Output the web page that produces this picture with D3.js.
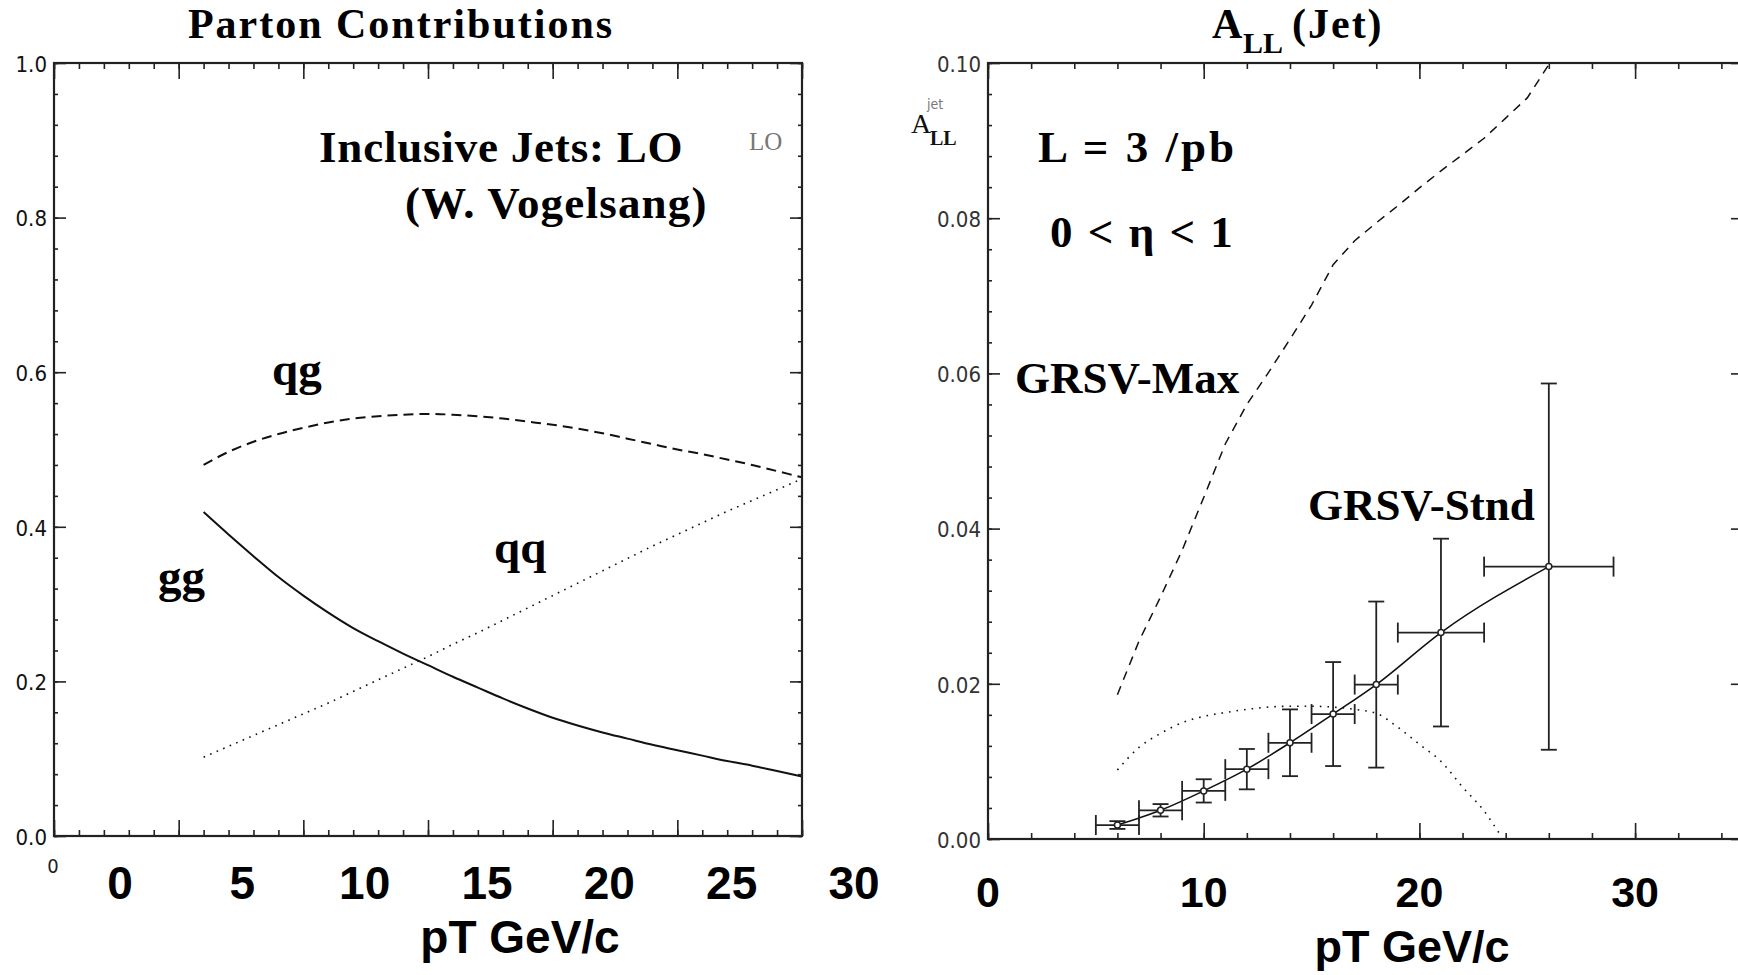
<!DOCTYPE html>
<html>
<head>
<meta charset="utf-8">
<script src="https://cdn.jsdelivr.net/npm/d3@7"></script>
<style>
  html, body { margin: 0; padding: 0; background: #fff; }
  svg { display: block; }
  .serif { font-family: "Liberation Serif", "Times New Roman", serif; font-weight: bold; fill: #000; }
  .bigsans { font-family: "Liberation Sans", Arial, sans-serif; font-weight: bold; fill: #000; }
  .tick text { font-family: "DejaVu Sans Condensed", "DejaVu Sans", sans-serif; font-stretch: condensed; }
</style>
</head>
<body>
<svg id="chart" width="1738" height="975"></svg>
<script>
// ---------------- DATA ----------------
// Left panel: parton contributions (fraction) vs pT
const partonPt = [6,7,8,9,10,11,12,13,14,15,16,17,18,19,20,21,22,23,24,25,26,27,28,29,30];
const qgFrac   = [0.480,0.497,0.510,0.520,0.528,0.535,0.540,0.543,0.545,0.546,0.545,0.543,0.540,0.536,0.532,0.527,0.521,0.514,0.507,0.500,0.494,0.487,0.480,0.472,0.464];
const ggFrac   = [0.419,0.390,0.362,0.335,0.311,0.289,0.269,0.252,0.236,0.221,0.206,0.192,0.178,0.165,0.153,0.143,0.134,0.126,0.118,0.111,0.104,0.097,0.091,0.084,0.077];
const qqFrac   = [0.102,0.116,0.130,0.144,0.158,0.172,0.187,0.202,0.217,0.232,0.248,0.263,0.279,0.295,0.311,0.327,0.343,0.359,0.375,0.390,0.405,0.420,0.434,0.448,0.462];
const partonYTicks = [0.0,0.2,0.4,0.6,0.8,1.0];
const partonXLabels = [0,5,10,15,20,25,30];

// Right panel: A_LL (jet)
const allPt   = [6,8,10,12,14,16,18,21,26];
const allVal  = [0.0018,0.0037,0.0062,0.0090,0.0124,0.0161,0.0199,0.0266,0.0351];
const allXErr = [1,1,1,1,1,1,1,2,3];
const allYErr = [0.0005,0.0008,0.0015,0.0026,0.0043,0.0067,0.0107,0.0121,0.0236];
const maxPt   = [6,7,8,9,10,11,12,13,14,15,16,17,18,19,20,21,22,23,24,25,26];
const maxVal  = [0.0186,0.0255,0.0312,0.0372,0.0440,0.0509,0.0560,0.0601,0.0644,0.0688,0.0740,0.0771,0.0794,0.0816,0.0839,0.0861,0.0882,0.0903,0.0929,0.0955,0.0998];
const minPt   = [6,7,8,9,10,11,12,13,14,15,16,17,18,19,20,21,22,23,23.8];
const minVal  = [0.0089,0.0118,0.0136,0.0150,0.0158,0.0163,0.0167,0.0170,0.0171,0.0171,0.0170,0.0167,0.0162,0.0144,0.0122,0.0100,0.0067,0.0036,0.0003];
const allYTicks = [0.00,0.02,0.04,0.06,0.08,0.10];
const allXLabels = [0,10,20,30];

// ---------------- DRAW ----------------
const svg = d3.select("#chart");

function frame(g, xs, ys, xMaj, xMin, yMaj, yMin, yFmt, labelColor) {
  const [xa, xb] = xs.range();
  const [ya, yb] = ys.range(); // ya bottom, yb top
  const mk = (sel) => { sel.select(".domain").remove(); sel.selectAll("line").attr("stroke", "#222").attr("stroke-width", 1.6); };
  g.append("g").attr("transform", `translate(0,${ya})`).call(d3.axisBottom(xs).tickValues(xMin).tickSize(-6).tickFormat("")).call(mk);
  g.append("g").attr("transform", `translate(0,${ya})`).call(d3.axisBottom(xs).tickValues(xMaj).tickSize(-16).tickFormat("")).call(mk);
  g.append("g").attr("transform", `translate(0,${yb})`).call(d3.axisTop(xs).tickValues(xMin).tickSize(-6).tickFormat("")).call(mk);
  g.append("g").attr("transform", `translate(0,${yb})`).call(d3.axisTop(xs).tickValues(xMaj).tickSize(-16).tickFormat("")).call(mk);
  g.append("g").attr("transform", `translate(${xa},0)`).call(d3.axisLeft(ys).tickValues(yMin).tickSize(-4).tickFormat("")).call(mk);
  const la = g.append("g").attr("transform", `translate(${xa},0)`)
    .call(d3.axisLeft(ys).tickValues(yMaj).tickSize(-12).tickPadding(7).tickFormat(yFmt)).call(mk);
  la.selectAll("text").attr("font-size", 22).attr("fill", labelColor).attr("dy", "0.38em");
  g.append("g").attr("transform", `translate(${xb},0)`).call(d3.axisRight(ys).tickValues(yMin).tickSize(-4).tickFormat("")).call(mk);
  g.append("g").attr("transform", `translate(${xb},0)`).call(d3.axisRight(ys).tickValues(yMaj).tickSize(-12).tickFormat("")).call(mk);
  g.append("rect").attr("x", xa).attr("y", yb).attr("width", xb - xa).attr("height", ya - yb)
    .attr("fill", "none").attr("stroke", "#222").attr("stroke-width", 2.2);
}

// ===== LEFT PANEL =====
const gL = svg.append("g");
const xL = d3.scaleLinear().domain([0, 30]).range([54, 802]);
const yL = d3.scaleLinear().domain([0, 1]).range([836, 63]);
const xLabL = d3.scaleLinear().domain([0, 30]).range([120, 854]);

const lineL = (vals) => d3.line().x((d, i) => xL(partonPt[i])).y(d => yL(d)).curve(d3.curveMonotoneX)(vals);
gL.append("path").attr("d", lineL(qgFrac)).attr("fill", "none").attr("stroke", "#111").attr("stroke-width", 2).attr("stroke-dasharray", "10,6");
gL.append("path").attr("d", lineL(ggFrac)).attr("fill", "none").attr("stroke", "#111").attr("stroke-width", 2);
gL.append("path").attr("d", lineL(qqFrac)).attr("fill", "none").attr("stroke", "#111").attr("stroke-width", 1.6).attr("stroke-dasharray", "1.6,5.5");

frame(gL, xL, yL, d3.range(0, 31, 5), d3.range(0, 31, 1),
      partonYTicks, d3.range(0, 1.001, 0.04), d3.format(".1f"), "#111");

gL.append("text").attr("x", 53).attr("y", 873).attr("text-anchor", "middle")
  .attr("font-family", "'DejaVu Sans Condensed','DejaVu Sans',sans-serif").attr("font-stretch", "condensed")
  .attr("font-size", 20).attr("fill", "#222").text("0");

gL.append("text").attr("class", "serif").attr("x", 401).attr("y", 38).attr("text-anchor", "middle")
  .attr("font-size", 42).attr("letter-spacing", 2).text("Parton Contributions");
gL.append("text").attr("class", "serif").attr("x", 319).attr("y", 162).attr("font-size", 45).attr("letter-spacing", 0.8).text("Inclusive Jets: LO");
gL.append("text").attr("class", "serif").attr("x", 405).attr("y", 218).attr("font-size", 45).attr("letter-spacing", 1.2).text("(W. Vogelsang)");
gL.append("text").attr("x", 749).attr("y", 150).attr("font-family", "'Liberation Serif',serif").attr("font-size", 25).attr("fill", "#777").text("LO");
gL.append("text").attr("class", "serif").attr("x", 272).attr("y", 385).attr("font-size", 47).text("qg");
gL.append("text").attr("class", "serif").attr("x", 494).attr("y", 563).attr("font-size", 47).text("qq");
gL.append("text").attr("class", "serif").attr("x", 158).attr("y", 592).attr("font-size", 47).text("gg");

gL.selectAll("text.xl").data(partonXLabels).enter().append("text").attr("class", "bigsans xl")
  .attr("x", d => xLabL(d)).attr("y", 899).attr("text-anchor", "middle").attr("font-size", 46).text(d => d);
gL.append("text").attr("class", "bigsans").attr("x", 520).attr("y", 953).attr("text-anchor", "middle")
  .attr("font-size", 46).text("pT GeV/c");

// ===== RIGHT PANEL =====
const gR = svg.append("g");
const xR = d3.scaleLinear().domain([0, 35]).range([988, 988 + 35 * 21.57]);
const yR = d3.scaleLinear().domain([0, 0.1]).range([839, 63]);

gR.append("path").attr("d", d3.line().x((d, i) => xR(maxPt[i])).y(d => yR(d))(maxVal))
  .attr("fill", "none").attr("stroke", "#111").attr("stroke-width", 1.5).attr("stroke-dasharray", "9,7");
gR.append("path").attr("d", d3.line().x((d, i) => xR(minPt[i])).y(d => yR(d)).curve(d3.curveMonotoneX)(minVal))
  .attr("fill", "none").attr("stroke", "#111").attr("stroke-width", 1.6).attr("stroke-dasharray", "1.6,6");
gR.append("path").attr("d", d3.line().x((d, i) => xR(allPt[i])).y(d => yR(d)).curve(d3.curveMonotoneX)(allVal))
  .attr("fill", "none").attr("stroke", "#111").attr("stroke-width", 1.6);

const pts = allPt.map((p, i) => ({ x: p, y: allVal[i], ex: allXErr[i], ey: allYErr[i] }));
const eb = gR.selectAll("g.pt").data(pts).enter().append("g").attr("class", "pt")
  .attr("stroke", "#222").attr("stroke-width", 1.8);
eb.append("line").attr("x1", d => xR(d.x - d.ex)).attr("x2", d => xR(d.x + d.ex)).attr("y1", d => yR(d.y)).attr("y2", d => yR(d.y));
eb.append("line").attr("x1", d => xR(d.x)).attr("x2", d => xR(d.x)).attr("y1", d => yR(d.y - d.ey)).attr("y2", d => yR(d.y + d.ey));
eb.append("line").attr("x1", d => xR(d.x - d.ex)).attr("x2", d => xR(d.x - d.ex)).attr("y1", d => yR(d.y) - 10).attr("y2", d => yR(d.y) + 10);
eb.append("line").attr("x1", d => xR(d.x + d.ex)).attr("x2", d => xR(d.x + d.ex)).attr("y1", d => yR(d.y) - 10).attr("y2", d => yR(d.y) + 10);
eb.append("line").attr("x1", d => xR(d.x) - 8).attr("x2", d => xR(d.x) + 8).attr("y1", d => yR(d.y - d.ey)).attr("y2", d => yR(d.y - d.ey));
eb.append("line").attr("x1", d => xR(d.x) - 8).attr("x2", d => xR(d.x) + 8).attr("y1", d => yR(d.y + d.ey)).attr("y2", d => yR(d.y + d.ey));
eb.append("circle").attr("cx", d => xR(d.x)).attr("cy", d => yR(d.y)).attr("r", 3).attr("fill", "#fff").attr("stroke-width", 1.5);

frame(gR, xR, yR, d3.range(0, 36, 10), d3.range(0, 36, 2),
      allYTicks, d3.range(0, 0.1001, 0.004), d3.format(".2f"), "#333");

const yl = gR.append("text").attr("font-family", "'Liberation Serif',serif").attr("fill", "#111");
yl.append("tspan").attr("x", 911).attr("y", 133).attr("font-size", 28).text("A");
yl.append("tspan").attr("x", 930).attr("y", 145).attr("font-size", 20).attr("font-weight", "bold").text("LL");
gR.append("text").attr("x", 927).attr("y", 109).attr("font-family", "'DejaVu Sans Condensed','DejaVu Sans',sans-serif")
  .attr("font-stretch", "condensed").attr("font-size", 14).attr("fill", "#777").text("jet");

const tt = gR.append("text").attr("class", "serif");
tt.append("tspan").attr("x", 1212).attr("y", 38).attr("font-size", 42).text("A");
tt.append("tspan").attr("x", 1243).attr("y", 53).attr("font-size", 30).text("LL");
tt.append("tspan").attr("x", 1292).attr("y", 38).attr("font-size", 42).attr("letter-spacing", 2).text("(Jet)");

gR.append("text").attr("class", "serif").attr("x", 1038).attr("y", 162).attr("font-size", 45).attr("letter-spacing", 3).text("L = 3 /pb");
gR.append("text").attr("class", "serif").attr("x", 1050).attr("y", 247).attr("font-size", 45).attr("letter-spacing", 2).text("0 < η < 1");
gR.append("text").attr("class", "serif").attr("x", 1015).attr("y", 393).attr("font-size", 45).text("GRSV-Max");
gR.append("text").attr("class", "serif").attr("x", 1308).attr("y", 520).attr("font-size", 45).text("GRSV-Stnd");

gR.selectAll("text.xl").data(allXLabels).enter().append("text").attr("class", "bigsans xl")
  .attr("x", d => xR(d)).attr("y", 907).attr("text-anchor", "middle").attr("font-size", 43).text(d => d);
gR.append("text").attr("class", "bigsans").attr("x", 1412).attr("y", 962).attr("text-anchor", "middle")
  .attr("font-size", 45).text("pT GeV/c");
</script>
</body>
</html>
